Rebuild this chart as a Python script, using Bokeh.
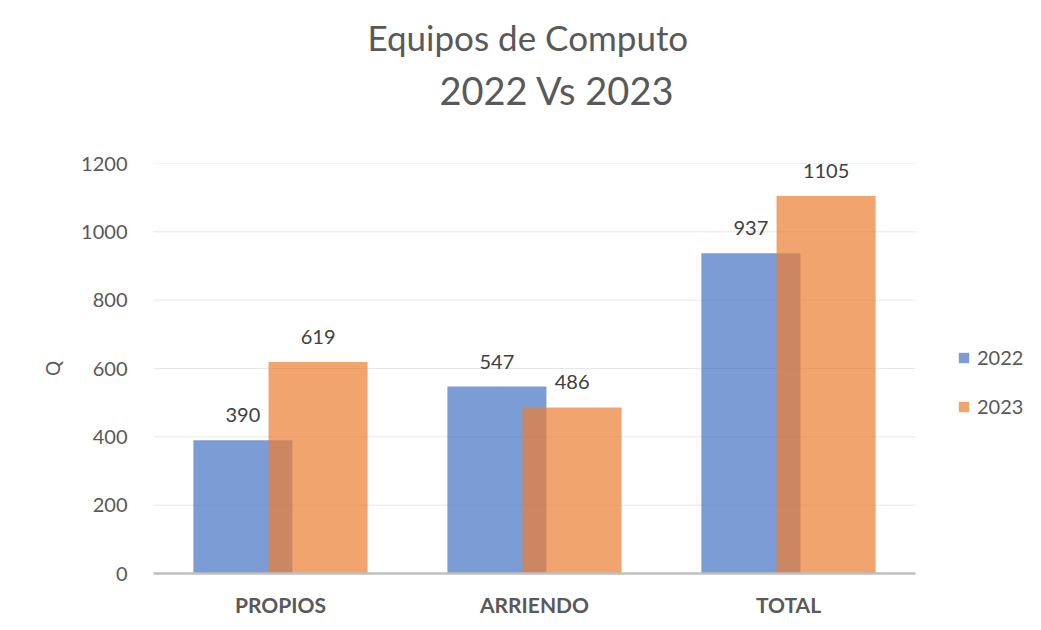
from bokeh.plotting import figure
from bokeh.models import (ColumnDataSource, LabelSet, Legend, LegendItem, Title,
                          FixedTicker, Range1d)
from bokeh.core.properties import value
from bokeh.transform import dodge
from bokeh.embed import file_html
from bokeh.resources import INLINE

categories = ["PROPIOS", "ARRIENDO", "TOTAL"]
values_2022 = [390, 547, 937]
values_2023 = [619, 486, 1105]
series_names = ["2022", "2023"]
y_ticks = [0, 200, 400, 600, 800, 1000, 1200]

FONT = "Lato"
TXT = "#595959"

x_pos = list(range(len(categories)))
src = ColumnDataSource(dict(x=x_pos, v22=values_2022, v23=values_2023,
                            l22=[str(v) for v in values_2022],
                            l23=[str(v) for v in values_2023]))

W, H = 1040, 628
LEFT, PLOT_RIGHT, TOP, BOTTOM = 153, 915, 163, 573
px_per_cat = (PLOT_RIGHT - LEFT) / len(categories)
x_lo, x_hi = -0.5, len(categories) - 0.5
x_end = x_lo + (W - LEFT) / px_per_cat

p = figure(x_range=Range1d(x_lo, x_end), y_range=Range1d(0, 1200), width=W, height=H,
           output_backend="svg", toolbar_location=None,
           min_border_left=LEFT, min_border_right=0, min_border_top=TOP,
           min_border_bottom=H - BOTTOM)
p.title = None
p.outline_line_color = None
p.background_fill_color = "white"
p.border_fill_color = "white"

# horizontal gridlines limited to the category area
p.ygrid.grid_line_color = None
p.xgrid.grid_line_color = None
p.segment(x0=x_lo, x1=x_hi, y0=y_ticks, y1=y_ticks, line_color="#E6E6E6", line_width=1)

b22 = p.vbar(x=dodge("x", -0.148), top="v22", width=0.39,
             source=src, fill_color="#4472C4", fill_alpha=0.7, line_color=None)
b23 = p.vbar(x=dodge("x", 0.148), top="v23", width=0.39,
             source=src, fill_color="#ED7D31", fill_alpha=0.7, line_color=None)

for col, lab, off in (("v22", "l22", -0.148), ("v23", "l23", 0.148)):
    p.add_layout(LabelSet(x=dodge("x", off), y=col, text=lab,
                          source=src, text_align="center", text_baseline="middle",
                          y_offset=25, text_font=value(FONT), text_font_size="20px",
                          text_color="#404040"))

p.yaxis.ticker = FixedTicker(ticks=y_ticks)
p.yaxis.axis_line_color = None
p.yaxis.major_tick_line_color = None
p.yaxis.minor_tick_line_color = None
p.yaxis.major_label_text_font = FONT
p.yaxis.major_label_text_font_size = "20px"
p.yaxis.major_label_text_color = TXT
p.yaxis.major_label_standoff = 20
p.yaxis.axis_label = "Q"
p.yaxis.axis_label_text_font = FONT
p.yaxis.axis_label_text_font_style = "normal"
p.yaxis.axis_label_text_font_size = "19px"
p.yaxis.axis_label_text_color = TXT
p.yaxis.axis_label_standoff = 14

p.xaxis.ticker = FixedTicker(ticks=x_pos)
p.xaxis.major_label_overrides = {i: c for i, c in zip(x_pos, categories)}
p.xaxis.bounds = (x_lo, x_hi)
p.xaxis.axis_line_color = "#BFBFBF"
p.xaxis.axis_line_width = 2.5
p.xaxis.major_tick_line_color = None
p.xaxis.minor_tick_line_color = None
p.xaxis.major_label_text_font = FONT
p.xaxis.major_label_text_font_style = "bold"
p.xaxis.major_label_text_font_size = "21px"
p.xaxis.major_label_text_color = TXT
p.xaxis.major_label_standoff = 12

# spacer between the title block and the plot area
p.add_layout(Title(text=" ", text_font=FONT, text_font_size="30px"), "above")
p.add_layout(Title(text="2022 Vs 2023", align="left", offset=286, text_font=FONT,
                   text_font_size="38px", text_font_style="normal",
                   text_color=TXT, standoff=6), "above")
p.add_layout(Title(text="Equipos de Computo", align="left", offset=214,
                   text_font=FONT, text_font_size="35px",
                   text_font_style="normal", text_color=TXT, standoff=8), "above")

legend = Legend(items=[LegendItem(label=series_names[0], renderers=[b22]),
                       LegendItem(label=series_names[1], renderers=[b23])],
                location=(804, 155), orientation="vertical",
                glyph_width=13, glyph_height=13, label_height=22, spacing=25,
                label_standoff=7, padding=0, margin=0,
                border_line_color=None, background_fill_alpha=0,
                label_text_font=FONT, label_text_font_size="20px",
                label_text_color=TXT)
p.add_layout(legend)

open("out.html", "w").write(file_html(p, INLINE))
